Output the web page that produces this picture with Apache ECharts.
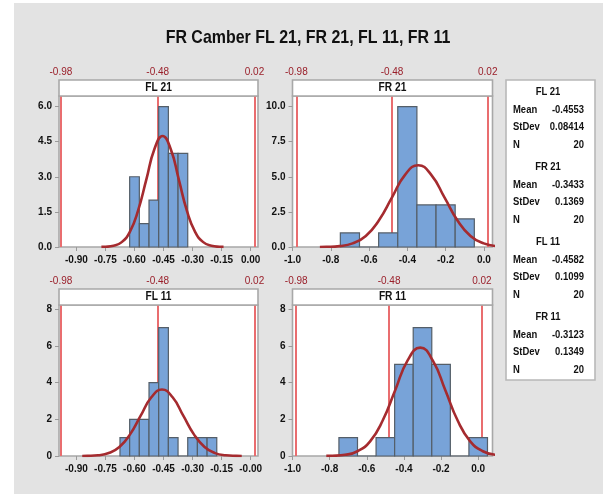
<!DOCTYPE html>
<html>
<head>
<meta charset="utf-8">
<script src="https://cdn.jsdelivr.net/npm/echarts@6/dist/echarts.min.js"></script>
<style>
  html, body { margin: 0; padding: 0; background: #fff; }
  #bg { position: absolute; left: 14px; top: 3px; right: 0; bottom: 0; background: #e3e3e3; }
  #chart { position: absolute; left: 0; top: 0; width: 603px; height: 494px; }
</style>
</head>
<body>
<div id="bg"></div>
<div id="chart"></div>
<script>
// histogram bins (edges) and counts
const fl21Edges = [-0.625, -0.575, -0.525, -0.475, -0.425, -0.375, -0.325]
const fl21Counts = [3, 1, 2, 6, 4, 4]
const fr21Edges = [-0.75, -0.65, -0.55, -0.45, -0.35, -0.25, -0.15, -0.05]
const fr21Counts = [1, 0, 1, 10, 3, 3, 2]
const fl11Edges = [-0.675, -0.625, -0.575, -0.525, -0.475, -0.425, -0.375, -0.325, -0.275, -0.225, -0.175]
const fl11Counts = [1, 2, 2, 4, 7, 1, 0, 1, 1, 1]
const fr11Edges = [-0.75, -0.65, -0.55, -0.45, -0.35, -0.25, -0.15, -0.05, 0.05]
const fr11Counts = [1, 0, 1, 5, 7, 5, 0, 1]

// fitted curves
const fl21CurveX = [-0.771, -0.750, -0.708, -0.666, -0.624, -0.582, -0.539, -0.497, -0.455, -0.413, -0.371, -0.329, -0.287, -0.245, -0.203, -0.161, -0.140]
const fl21CurveY = [0.004, 0.010, 0.053, 0.208, 0.642, 1.539, 2.875, 4.184, 4.741, 4.184, 2.875, 1.539, 0.642, 0.208, 0.053, 0.010, 0.004]
const fr21CurveX = [-0.857, -0.823, -0.754, -0.686, -0.617, -0.549, -0.480, -0.412, -0.343, -0.275, -0.206, -0.138, -0.070, -0.001, 0.067]
const fr21CurveY = [0.005, 0.013, 0.065, 0.256, 0.789, 1.892, 3.535, 5.143, 5.828, 5.143, 3.535, 1.892, 0.789, 0.256, 0.065]
const fl11CurveX = [-0.870, -0.843, -0.788, -0.733, -0.678, -0.623, -0.568, -0.513, -0.458, -0.403, -0.348, -0.293, -0.238, -0.184, -0.129, -0.074, -0.046]
const fl11CurveY = [0.003, 0.008, 0.040, 0.159, 0.491, 1.179, 2.202, 3.203, 3.630, 3.203, 2.202, 1.179, 0.491, 0.159, 0.040, 0.008, 0.003]
const fr11CurveX = [-0.818, -0.785, -0.717, -0.650, -0.582, -0.515, -0.447, -0.380, -0.312, -0.245, -0.177, -0.110, -0.043, 0.025, 0.092]
const fr11CurveY = [0.005, 0.013, 0.066, 0.260, 0.800, 1.921, 3.588, 5.220, 5.915, 5.220, 3.588, 1.921, 0.800, 0.260, 0.066]

// reference lines
const refLines = [-0.98, -0.48, 0.02]
const refLabels = ['-0.98', '-0.48', '0.02']

// tick labels
const xTicksA = [-0.90, -0.75, -0.60, -0.45, -0.30, -0.15, 0.00]
const fl21XLabels = ['-0.90', '-0.75', '-0.60', '-0.45', '-0.30', '-0.15', '0.00']
const fl11XLabels = ['-0.90', '-0.75', '-0.60', '-0.45', '-0.30', '-0.15', '-0.00']
const xTicksB = [-1.0, -0.8, -0.6, -0.4, -0.2, 0.0]
const frXLabels = ['-1.0', '-0.8', '-0.6', '-0.4', '-0.2', '0.0']
const fl21YTicks = [0, 1.5, 3, 4.5, 6]
const fl21YLabels = ['0.0', '1.5', '3.0', '4.5', '6.0']
const fr21YTicks = [0, 2.5, 5, 7.5, 10]
const fr21YLabels = ['0.0', '2.5', '5.0', '7.5', '10.0']
const y11Ticks = [0, 2, 4, 6, 8]
const y11Labels = ['0', '2', '4', '6', '8']

// summary statistics
const statNames = ['FL 21', 'FR 21', 'FL 11', 'FR 11']
const statMean = ['-0.4553', '-0.3433', '-0.4582', '-0.3123']
const statStDev = ['0.08414', '0.1369', '0.1099', '0.1349']
const statN = ['20', '20', '20', '20']

const FONT = "'Liberation Sans', Arial, sans-serif"
const HEADER_H = 16

const panels = [
  { name: 'FL 21', edges: fl21Edges, counts: fl21Counts, cx: fl21CurveX, cy: fl21CurveY,
    xTicks: xTicksA, xLabels: fl21XLabels, yTicks: fl21YTicks, yLabels: fl21YLabels,
    xMin: -0.99, xMax: 0.038, yMax: 6.45, grid: { left: 59, top: 96, width: 199, height: 151 } },
  { name: 'FR 21', edges: fr21Edges, counts: fr21Counts, cx: fr21CurveX, cy: fr21CurveY,
    xTicks: xTicksB, xLabels: frXLabels, yTicks: fr21YTicks, yLabels: fr21YLabels,
    xMin: -1.0, xMax: 0.045, yMax: 10.76, grid: { left: 292.5, top: 96, width: 200, height: 151 } },
  { name: 'FL 11', edges: fl11Edges, counts: fl11Counts, cx: fl11CurveX, cy: fl11CurveY,
    xTicks: xTicksA, xLabels: fl11XLabels, yTicks: y11Ticks, yLabels: y11Labels,
    xMin: -0.99, xMax: 0.038, yMax: 8.24, grid: { left: 59, top: 305, width: 199, height: 151 } },
  { name: 'FR 11', edges: fr11Edges, counts: fr11Counts, cx: fr11CurveX, cy: fr11CurveY,
    xTicks: xTicksB, xLabels: frXLabels, yTicks: y11Ticks, yLabels: y11Labels,
    xMin: -1.0, xMax: 0.077, yMax: 8.24, grid: { left: 292.5, top: 305, width: 200, height: 151 } }
]

const pickLabel = (ticks, labels) => (v) => {
  let best = 0
  ticks.forEach((t, i) => { if (Math.abs(t - v) < Math.abs(ticks[best] - v)) best = i })
  return labels[best]
}

const grids = [], xAxes = [], yAxes = [], series = [], graphics = []

panels.forEach((p, i) => {
  grids.push(Object.assign({ show: true, backgroundColor: '#fff', borderColor: '#a8a8a8', borderWidth: 1.6 }, p.grid))

  // bottom axis
  xAxes.push({
    type: 'value', gridIndex: i, min: p.xMin, max: p.xMax,
    axisLine: { show: false, onZero: false },
    axisTick: { show: true, customValues: p.xTicks, length: 4, lineStyle: { color: '#9a9a9a' } },
    axisLabel: { customValues: p.xTicks, formatter: pickLabel(p.xTicks, p.xLabels), margin: 8,
      color: '#111', fontSize: 10, fontWeight: 'bold', fontFamily: FONT },
    splitLine: { show: false }
  })
  // top axis with reference line labels
  xAxes.push({
    type: 'value', gridIndex: i, position: 'top', min: p.xMin, max: p.xMax,
    axisLine: { show: false, onZero: false }, axisTick: { show: false }, splitLine: { show: false },
    axisLabel: { customValues: refLines, formatter: pickLabel(refLines, refLabels), margin: HEADER_H + 3,
      color: '#9a1f2a', fontSize: 10, fontFamily: FONT }
  })
  yAxes.push({
    type: 'value', gridIndex: i, min: 0, max: p.yMax,
    axisLine: { show: false, onZero: false },
    axisTick: { show: true, customValues: p.yTicks, length: 4, lineStyle: { color: '#9a9a9a' } },
    axisLabel: { customValues: p.yTicks, formatter: pickLabel(p.yTicks, p.yLabels), margin: 7,
      color: '#111', fontSize: 10, fontWeight: 'bold', fontFamily: FONT },
    splitLine: { show: false }
  })

  const binData = p.counts.map((c, k) => [p.edges[k], p.edges[k + 1], c])
  series.push({
    type: 'custom', xAxisIndex: 2 * i, yAxisIndex: i, z: 2,
    encode: { x: [0, 1], y: 2 },
    data: binData,
    renderItem: (params, api) => {
      const p0 = api.coord([api.value(0), 0])
      const p1 = api.coord([api.value(1), api.value(2)])
      return {
        type: 'rect',
        shape: { x: p0[0], y: p1[1], width: p1[0] - p0[0], height: p0[1] - p1[1] },
        style: { fill: '#78a3d8', stroke: '#545e68', lineWidth: 1.2 }
      }
    },
    markLine: {
      z: 1, silent: true, symbol: 'none', animation: false,
      label: { show: false },
      lineStyle: { color: '#e96d6f', width: 2, type: 'solid' },
      data: refLines.map(v => ({ xAxis: v }))
    }
  })
  series.push({
    type: 'line', xAxisIndex: 2 * i, yAxisIndex: i, z: 3,
    smooth: true, showSymbol: false, symbol: 'none',
    lineStyle: { color: '#a52b2f', width: 2.6 },
    data: p.cx.map((x, k) => [x, p.cy[k]])
  })

  // panel header strip
  graphics.push({
    type: 'rect', z: 10,
    shape: { x: p.grid.left, y: p.grid.top - HEADER_H, width: p.grid.width, height: HEADER_H },
    style: { fill: '#fff', stroke: '#a8a8a8', lineWidth: 1.6 }
  })
  graphics.push({
    type: 'text', z: 11, scaleX: 0.85,
    x: p.grid.left + p.grid.width / 2, y: p.grid.top - HEADER_H / 2,
    style: { text: p.name, textAlign: 'center', textVerticalAlign: 'middle',
      font: 'bold 12px ' + FONT, fill: '#111' }
  })
})

// statistics box
const boxX = 506, boxY = 80, blockH = 75
graphics.push({
  type: 'rect', z: 10,
  shape: { x: boxX, y: boxY, width: 89, height: 300 },
  style: { fill: '#fff', stroke: '#b8b8b8', lineWidth: 1.6 }
})
statNames.forEach((name, i) => {
  const y0 = 92 + i * blockH
  const txt = (text, x, y, align) => ({
    type: 'text', z: 11, x, y, scaleX: 0.9,
    style: { text, textAlign: align, textVerticalAlign: 'middle', font: 'bold 10.5px ' + FONT, fill: '#111' }
  })
  graphics.push(txt(name, 548, y0, 'center'))
  graphics.push(txt('Mean', 513, y0 + 18, 'left'))
  graphics.push(txt(statMean[i], 584, y0 + 18, 'right'))
  graphics.push(txt('StDev', 513, y0 + 35.5, 'left'))
  graphics.push(txt(statStDev[i], 584, y0 + 35.5, 'right'))
  graphics.push(txt('N', 513, y0 + 53, 'left'))
  graphics.push(txt(statN[i], 584, y0 + 53, 'right'))
})

// chart title
graphics.push({
  type: 'text', z: 11, scaleX: 0.84, x: 308, y: 38,
  style: { text: 'FR Camber FL 21, FR 21, FL 11, FR 11', textAlign: 'center', textVerticalAlign: 'middle',
    font: 'bold 19px ' + FONT, fill: '#111' }
})

const chart = echarts.init(document.getElementById('chart'))
chart.setOption({
  animation: false,
  backgroundColor: 'transparent',
  grid: grids,
  xAxis: xAxes,
  yAxis: yAxes,
  series: series,
  graphic: graphics
})
</script>
</body>
</html>
